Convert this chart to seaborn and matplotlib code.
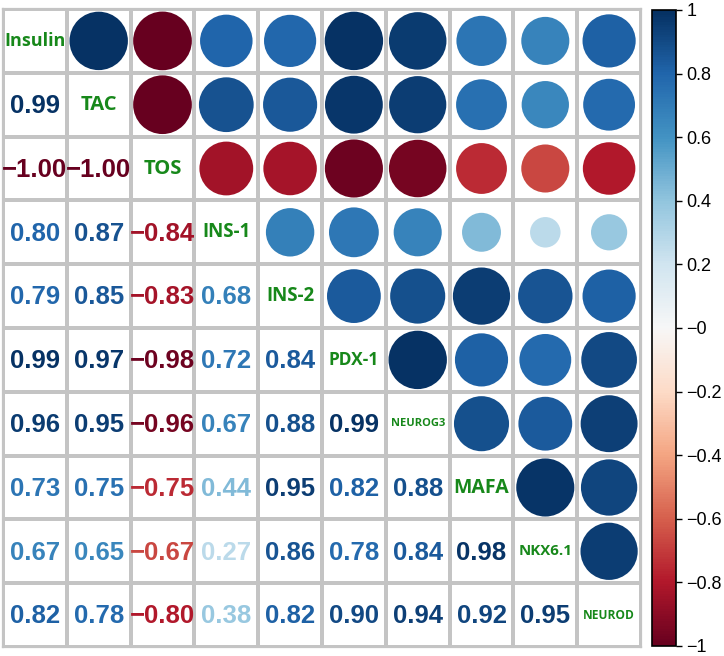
import numpy as np
import pandas as pd
import matplotlib
matplotlib.use("Agg")
import matplotlib.pyplot as plt
import seaborn as sns
from matplotlib.patches import Circle
from matplotlib.colors import ListedColormap, Normalize
from matplotlib.cm import ScalarMappable

variables = ["Insulin", "TAC", "TOS", "INS-1", "INS-2", "PDX-1",
             "NEUROG3", "MAFA", "NKX6.1", "NEUROD"]

# lower triangle rows (correlations with earlier variables)
row_TAC = [0.99]
row_TOS = [-1.00, -1.00]
row_INS1 = [0.80, 0.87, -0.84]
row_INS2 = [0.79, 0.85, -0.83, 0.68]
row_PDX1 = [0.99, 0.97, -0.98, 0.72, 0.84]
row_NEUROG3 = [0.96, 0.95, -0.96, 0.67, 0.88, 0.99]
row_MAFA = [0.73, 0.75, -0.75, 0.44, 0.95, 0.82, 0.88]
row_NKX61 = [0.67, 0.65, -0.67, 0.27, 0.86, 0.78, 0.84, 0.98]
row_NEUROD = [0.82, 0.78, -0.80, 0.38, 0.82, 0.90, 0.94, 0.92, 0.95]

label_sizes = [13, 14.5, 14.5, 13.5, 13.5, 12.5, 8, 14, 10.8, 8.6]

rows = [[], row_TAC, row_TOS, row_INS1, row_INS2, row_PDX1,
        row_NEUROG3, row_MAFA, row_NKX61, row_NEUROD]
n = len(variables)
M = np.eye(n)
for i, r in enumerate(rows):
    for j, v in enumerate(r):
        M[i, j] = v
        M[j, i] = v
corr = pd.DataFrame(M, index=variables, columns=variables)

W, H = 724, 656
fig = plt.figure(figsize=(W / 100, H / 100), dpi=100)
ax = fig.add_axes([3 / W, 9 / H, 638 / W, 638 / H])
cax = fig.add_axes([652 / W, 10 / H, 24 / W, 636 / H])

sns.heatmap(np.zeros((n, n)), cmap=ListedColormap(["white"]), cbar=False,
            linewidths=1.6, linecolor="#c4c4c4", ax=ax, square=False)
ax.set_xticks([])
ax.set_yticks([])
for s in ax.spines.values():
    s.set_visible(True)
    s.set_color("#c4c4c4")
    s.set_linewidth(1.6)

cmap = plt.get_cmap("RdBu")
norm = Normalize(-1, 1)
green = "#17881a"

for i in range(n):
    for j in range(n):
        v = corr.iloc[i, j]
        if i == j:
            ax.text(j + 0.5, i + 0.5, variables[i], ha="center", va="center",
                    color=green, fontsize=label_sizes[i], fontweight="bold",
                    family=["Open Sans", "DejaVu Sans"])
        elif j > i:
            ax.add_patch(Circle((j + 0.5, i + 0.5), 0.46 * np.sqrt(abs(v)),
                                facecolor=cmap(norm(v)), edgecolor="none"))
        else:
            txt = f"{v:.2f}".replace("-", "\u2212")
            ax.text(j + 0.5, i + 0.52, txt, ha="center", va="center",
                    color=cmap(norm(v)), fontsize=18.5, fontweight="bold",
                    family=["Liberation Sans", "DejaVu Sans"])

sm = ScalarMappable(norm=norm, cmap=cmap)
cb = fig.colorbar(sm, cax=cax)
ticks = np.round(np.arange(-1, 1.01, 0.2), 1)
cb.set_ticks(ticks)
cb.set_ticklabels([("%g" % t).replace("-", "\u2212") for t in ticks])
cb.ax.tick_params(labelsize=13, length=4, width=1)
for t in cb.ax.get_yticklabels():
    t.set_family(["Liberation Sans", "DejaVu Sans"])
cb.outline.set_edgecolor("black")
cb.outline.set_linewidth(1.2)

fig.savefig("out.png", dpi=100)
